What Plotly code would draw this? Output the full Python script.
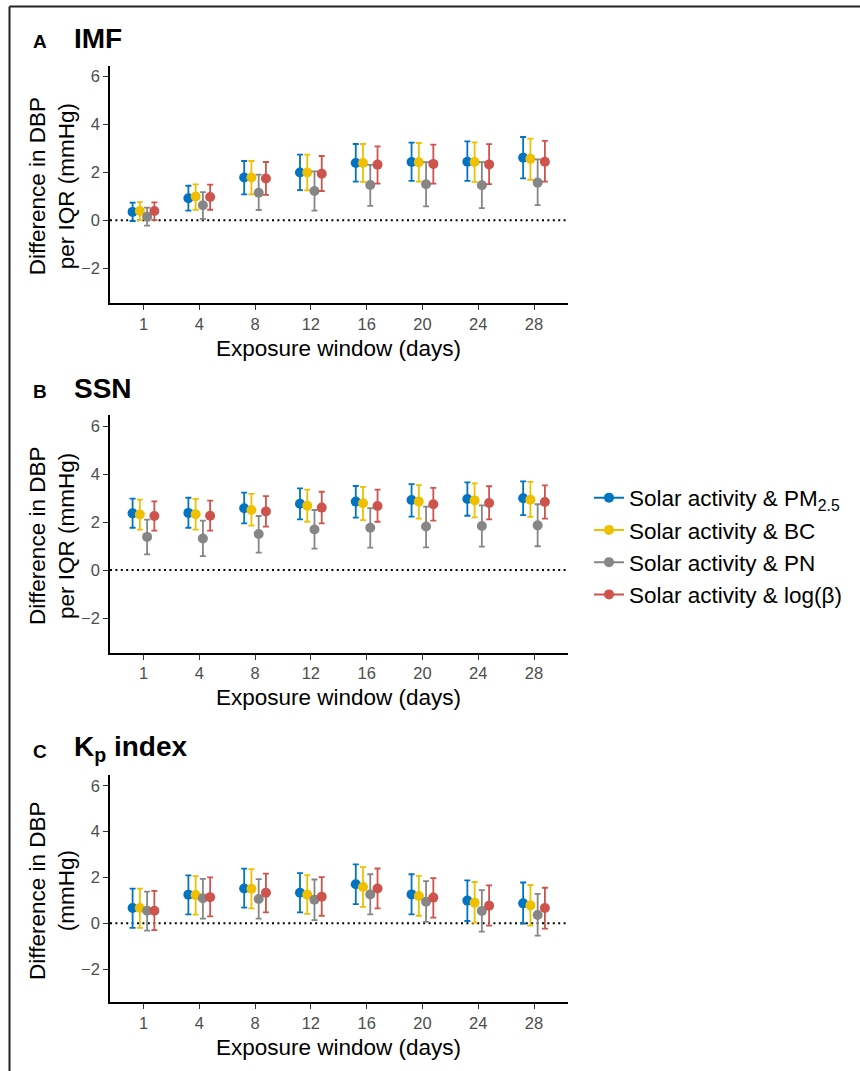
import plotly.graph_objects as go

W, H = 860, 1071

windows = ["1", "4", "8", "12", "16", "20", "24", "28"]
series_names = ["Solar activity & PM<sub>2.5</sub>", "Solar activity & BC",
                "Solar activity & PN", "Solar activity & log(β)"]
colors = ["#0073C2", "#EFC000", "#868686", "#CD534C"]

# Panel A: IMF
imf_pm25 = [0.35, 0.92, 1.78, 1.99, 2.39, 2.43, 2.44, 2.61]
imf_pm25_lo = [-0.03, 0.40, 1.08, 1.26, 1.61, 1.64, 1.64, 1.75]
imf_pm25_hi = [0.74, 1.44, 2.47, 2.74, 3.18, 3.24, 3.29, 3.47]
imf_bc = [0.39, 0.99, 1.78, 1.99, 2.39, 2.42, 2.43, 2.56]
imf_bc_lo = [0.01, 0.44, 1.08, 1.25, 1.60, 1.61, 1.60, 1.69]
imf_bc_hi = [0.76, 1.50, 2.47, 2.74, 3.18, 3.22, 3.25, 3.40]
imf_pn = [0.15, 0.63, 1.15, 1.22, 1.47, 1.50, 1.46, 1.57]
imf_pn_lo = [-0.22, 0.06, 0.43, 0.40, 0.60, 0.58, 0.51, 0.63]
imf_pn_hi = [0.53, 1.17, 1.90, 2.04, 2.31, 2.42, 2.42, 2.54]
imf_beta = [0.39, 0.97, 1.74, 1.94, 2.32, 2.35, 2.33, 2.44]
imf_beta_lo = [0.01, 0.44, 1.06, 1.22, 1.53, 1.53, 1.51, 1.61]
imf_beta_hi = [0.75, 1.49, 2.43, 2.68, 3.08, 3.15, 3.17, 3.31]

# Panel B: SSN
ssn_pm25 = [2.36, 2.38, 2.57, 2.76, 2.85, 2.92, 2.96, 2.99]
ssn_pm25_lo = [1.76, 1.76, 1.94, 2.11, 2.18, 2.22, 2.26, 2.29]
ssn_pm25_hi = [2.97, 3.01, 3.22, 3.40, 3.50, 3.58, 3.65, 3.69]
ssn_bc = [2.31, 2.32, 2.50, 2.68, 2.78, 2.85, 2.90, 2.93]
ssn_bc_lo = [1.68, 1.68, 1.85, 2.01, 2.08, 2.14, 2.19, 2.21]
ssn_bc_hi = [2.93, 2.96, 3.17, 3.35, 3.46, 3.54, 3.61, 3.67]
ssn_pn = [1.38, 1.31, 1.50, 1.69, 1.76, 1.81, 1.83, 1.86]
ssn_pn_lo = [0.65, 0.58, 0.72, 0.89, 0.93, 0.94, 0.97, 0.99]
ssn_pn_hi = [2.10, 2.06, 2.25, 2.50, 2.58, 2.64, 2.69, 2.74]
ssn_beta = [2.25, 2.26, 2.44, 2.60, 2.67, 2.74, 2.79, 2.83]
ssn_beta_lo = [1.64, 1.64, 1.81, 1.94, 2.01, 2.06, 2.11, 2.14]
ssn_beta_hi = [2.86, 2.89, 3.08, 3.26, 3.35, 3.42, 3.49, 3.53]

# Panel C: Kp index
kp_pm25 = [0.67, 1.25, 1.52, 1.33, 1.70, 1.26, 0.99, 0.87]
kp_pm25_lo = [-0.20, 0.39, 0.68, 0.48, 0.84, 0.39, 0.10, -0.01]
kp_pm25_hi = [1.51, 2.09, 2.38, 2.19, 2.57, 2.14, 1.87, 1.78]
kp_bc = [0.67, 1.23, 1.51, 1.25, 1.58, 1.19, 0.90, 0.78]
kp_bc_lo = [-0.20, 0.38, 0.65, 0.41, 0.72, 0.33, 0.03, -0.10]
kp_bc_hi = [1.51, 2.06, 2.36, 2.10, 2.45, 2.07, 1.80, 1.67]
kp_pn = [0.55, 1.09, 1.06, 1.03, 1.26, 0.94, 0.54, 0.36]
kp_pn_lo = [-0.32, 0.20, 0.20, 0.14, 0.39, 0.06, -0.36, -0.54]
kp_pn_hi = [1.38, 1.94, 1.93, 1.91, 2.14, 1.84, 1.45, 1.28]
kp_beta = [0.55, 1.14, 1.33, 1.16, 1.52, 1.12, 0.77, 0.67]
kp_beta_lo = [-0.30, 0.30, 0.48, 0.33, 0.65, 0.25, -0.10, -0.23]
kp_beta_hi = [1.41, 2.00, 2.17, 2.01, 2.39, 1.97, 1.65, 1.55]

panels = [
    [(imf_pm25, imf_pm25_lo, imf_pm25_hi), (imf_bc, imf_bc_lo, imf_bc_hi),
     (imf_pn, imf_pn_lo, imf_pn_hi), (imf_beta, imf_beta_lo, imf_beta_hi)],
    [(ssn_pm25, ssn_pm25_lo, ssn_pm25_hi), (ssn_bc, ssn_bc_lo, ssn_bc_hi),
     (ssn_pn, ssn_pn_lo, ssn_pn_hi), (ssn_beta, ssn_beta_lo, ssn_beta_hi)],
    [(kp_pm25, kp_pm25_lo, kp_pm25_hi), (kp_bc, kp_bc_lo, kp_bc_hi),
     (kp_pn, kp_pn_lo, kp_pn_hi), (kp_beta, kp_beta_lo, kp_beta_hi)],
]
panel_letters = ["A", "B", "C"]
panel_titles = ["IMF", "SSN", "K<sub>p</sub> index"]
y_titles = ["Difference in DBP<br>per IQR (mmHg)", "Difference in DBP<br>per IQR (mmHg)",
            "Difference in DBP<br>(mmHg)"]
y_ticks = [-2, 0, 2, 4, 6]

dodge = [-0.195, -0.065, 0.065, 0.195]

# pixel layout (top, bottom) of each plotting area
px_top = [65.5, 415.2, 775.4]
px_bot = [303.1, 652.8, 1002.4]
px_left, px_right = 110.0, 567.5

FONT = "Liberation Sans, Arial, Helvetica, sans-serif"

def fx(px):
    return px / W

def fy(py):
    return 1 - py / H

fig = go.Figure()
layout = dict(
    width=W, height=H, margin=dict(l=0, r=0, t=0, b=0),
    paper_bgcolor="white", plot_bgcolor="white",
    font=dict(family=FONT, color="black"),
    showlegend=True,
)
annotations = []
shapes = []

for p in range(3):
    xa = "x" if p == 0 else f"x{p+1}"
    ya = "y" if p == 0 else f"y{p+1}"
    xkey = "xaxis" if p == 0 else f"xaxis{p+1}"
    ykey = "yaxis" if p == 0 else f"yaxis{p+1}"
    for s in range(4):
        vals, lo, hi = panels[p][s]
        xs = [i + dodge[s] for i in range(len(windows))]
        fig.add_trace(go.Scatter(
            x=xs, y=vals, xaxis=xa, yaxis=ya, mode="markers",
            marker=dict(color=colors[s], size=10),
            error_y=dict(type="data", symmetric=False,
                         array=[h - v for h, v in zip(hi, vals)],
                         arrayminus=[v - l for v, l in zip(vals, lo)],
                         color=colors[s], thickness=1.8, width=3),
            showlegend=False, hoverinfo="skip",
        ))
    layout[xkey] = dict(
        domain=[fx(px_left), fx(px_right)], anchor=ya, range=[-0.6, 7.6],
        tickmode="array", tickvals=list(range(len(windows))), ticktext=windows,
        showline=True, linecolor="black", linewidth=1.6,
        ticks="outside", ticklen=5, tickwidth=1.2, tickcolor="#333333",
        tickfont=dict(size=16.5, color="#4D4D4D", family=FONT),
        showgrid=False, zeroline=False, fixedrange=True,
    )
    layout[ykey] = dict(
        domain=[fy(px_bot[p]), fy(px_top[p])], anchor=xa, range=[-3.45, 6.45],
        tickmode="array", tickvals=y_ticks,
        showline=True, linecolor="black", linewidth=1.6,
        ticks="outside", ticklen=5, tickwidth=1.2, tickcolor="#333333",
        tickfont=dict(size=16.5, color="#4D4D4D", family=FONT),
        showgrid=False, zeroline=False, fixedrange=True,
    )
    shapes.append(dict(type="line", xref=f"{xa} domain", yref=ya, x0=0, x1=1, y0=0, y1=0,
                       line=dict(color="black", width=2, dash="2px,3.4px"), layer="below"))
    # titles
    annotations.append(dict(text=f"<b>{panel_letters[p]}</b>", xref="paper", yref="paper",
                            x=fx(40), y=fy(px_top[p] - 23.5), xanchor="center", yanchor="middle",
                            showarrow=False, font=dict(size=19, family=FONT, color="black")))
    annotations.append(dict(text=f"<b>{panel_titles[p]}</b>", xref="paper", yref="paper",
                            x=fx(72), y=fy(px_top[p] - 26.5), xanchor="left", yanchor="middle",
                            showarrow=False, font=dict(size=28, family=FONT, color="black")))
    annotations.append(dict(text="Exposure window (days)", xref="paper", yref="paper",
                            x=fx((px_left + px_right) / 2), y=fy(px_bot[p] + 45),
                            xanchor="center", yanchor="middle", showarrow=False,
                            font=dict(size=22.5, family=FONT, color="black")))
    annotations.append(dict(text=y_titles[p], xref="paper", yref="paper",
                            x=fx(52), y=fy((px_top[p] + px_bot[p]) / 2 + 2),
                            xanchor="center", yanchor="middle", showarrow=False, textangle=-90,
                            font=dict(size=22.5, family=FONT, color="black")))

# legend-only traces
for s in range(4):
    fig.add_trace(go.Scatter(
        x=[None], y=[None], mode="lines+markers", name=series_names[s],
        line=dict(color=colors[s], width=2), marker=dict(color=colors[s], size=10),
        showlegend=True,
    ))

# outer frame (top and left edges)
shapes.append(dict(type="line", xref="paper", yref="paper", x0=fx(9.5), x1=1.0,
                   y0=fy(6.5), y1=fy(6.5), line=dict(color="#222222", width=2)))
shapes.append(dict(type="line", xref="paper", yref="paper", x0=fx(9.5), x1=fx(9.5),
                   y0=fy(6.5), y1=0.0, line=dict(color="#222222", width=2)))

layout["legend"] = dict(x=fx(589), y=fy(546), xanchor="left", yanchor="middle",
                        font=dict(size=22.5, family=FONT, color="black"),
                        bgcolor="rgba(0,0,0,0)", borderwidth=0, itemwidth=30)
layout["annotations"] = annotations
layout["shapes"] = shapes
fig.update_layout(**layout)

fig.write_html("out.html")
